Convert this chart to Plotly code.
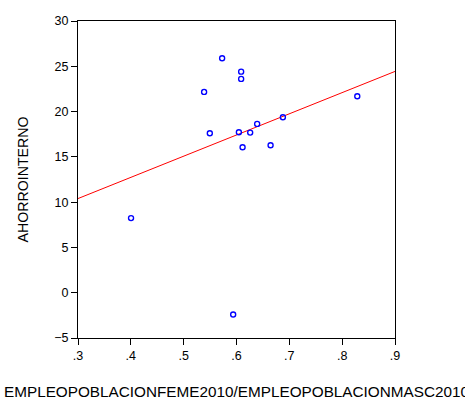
import numpy as np
import plotly.graph_objects as go

# Ratio of female to male employment-population rate (2010) and domestic saving
ratio_emp = [0.5728, 0.6088, 0.6088, 0.5387, 0.8286, 0.6878, 0.6391,
             0.5495, 0.6045, 0.6259, 0.6645, 0.6115, 0.4004, 0.5937]
ahorro = [25.88, 24.41, 23.61, 22.17, 21.69, 19.37, 18.64,
          17.61, 17.72, 17.68, 16.28, 16.06, 8.24, -2.41]

x_ticks = [0.3, 0.4, 0.5, 0.6, 0.7, 0.8, 0.9]
x_tick_text = [".3", ".4", ".5", ".6", ".7", ".8", ".9"]
y_ticks = [-5, 0, 5, 10, 15, 20, 25, 30]

x_title = "EMPLEOPOBLACIONFEME2010/EMPLEOPOBLACIONMASC2010"
y_title = "AHORROINTERNO"

# least-squares fit line across the full x range
slope, intercept = np.polyfit(ratio_emp, ahorro, 1)
fit_x = np.array([0.3, 0.9])
fit_y = intercept + slope * fit_x

W, H = 465, 398
ml, mr, mt, mb = 78, 70, 20.5, 60.3
pw, ph = W - ml - mr, H - mt - mb

fig = go.Figure()
fig.add_trace(go.Scatter(
    x=fit_x, y=fit_y, mode="lines",
    line=dict(color="#ff0000", width=1), hoverinfo="skip"))
fig.add_trace(go.Scatter(
    x=ratio_emp, y=ahorro, mode="markers",
    marker=dict(symbol="circle-open", size=5, color="#0000ff",
                line=dict(width=1.4, color="#0000ff"))))

axis_common = dict(
    showgrid=False, zeroline=False, showline=True, mirror=True,
    linecolor="#000000", linewidth=1, ticks="outside", ticklen=6,
    tickcolor="#000000", tickwidth=1,
    tickfont=dict(family="Liberation Sans, Arial", size=12.5, color="#000000"))

fig.update_xaxes(range=[0.3, 0.9], tickvals=x_ticks, ticktext=x_tick_text,
                 **axis_common)
fig.update_yaxes(range=[-5, 30], tickvals=y_ticks, **axis_common)

fig.add_annotation(
    text=x_title, xref="paper", yref="paper",
    x=(236.5 - ml) / pw, y=(H - 391 - mb) / ph,
    xanchor="center", yanchor="middle", showarrow=False,
    font=dict(family="Liberation Sans, Arial", size=15.3, color="#000000"))
fig.add_annotation(
    text=y_title, xref="paper", yref="paper", textangle=-90,
    x=(22 - ml) / pw, y=0.5,
    xanchor="center", yanchor="middle", showarrow=False,
    font=dict(family="Liberation Sans, Arial", size=14.2, color="#000000"))

fig.update_layout(
    width=W, height=H, showlegend=False,
    margin=dict(l=ml, r=mr, t=mt, b=mb),
    paper_bgcolor="#ffffff", plot_bgcolor="#ffffff")

fig.write_html("out.html", config={"displayModeBar": False})
